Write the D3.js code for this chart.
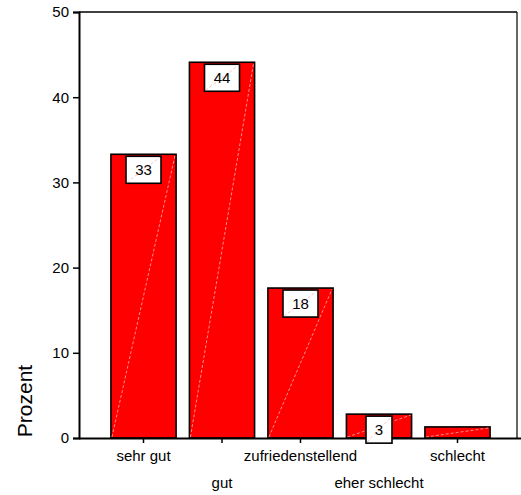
<!DOCTYPE html>
<html><head><meta charset="utf-8">
<script src="https://cdn.jsdelivr.net/npm/d3@7"></script>
<style>body{margin:0;background:#fff}svg{display:block;font-family:"Liberation Sans",Arial,sans-serif}</style>
</head><body>
<script>
const categories = ["sehr gut","gut","zufriedenstellend","eher schlecht","schlecht"];
const values = [33.3, 44.1, 17.6, 2.8, 1.3];
const labels = ["33","44","18","3",""];
const yTicks = [0,10,20,30,40,50];

(function(){
const W=521,H=495;
const svg=d3.select("body").append("svg").attr("width",W).attr("height",H);
const pLeft=79, pRight=517, pTop=12, pBottom=438;
const y=d3.scaleLinear().domain([0,50]).range([pBottom,pTop]);
const x=d3.scaleBand().domain(categories).range([104.25,496.75]).paddingInner(0.17).paddingOuter(0.085);

// frame
svg.append("line").attr("x1",pLeft).attr("x2",pRight).attr("y1",pTop).attr("y2",pTop).attr("stroke","#000").attr("stroke-width",1.5);
svg.append("line").attr("x1",pRight).attr("x2",pRight).attr("y1",pTop).attr("y2",pBottom).attr("stroke","#000").attr("stroke-width",1.2);

// bars
const g=svg.append("g");
categories.forEach((c,i)=>{
  const x0=x(c), bw=x.bandwidth(), yt=y(values[i]);
  g.append("rect").attr("x",x0).attr("y",yt).attr("width",bw).attr("height",pBottom-yt)
    .attr("fill","#ff0000").attr("stroke","#000").attr("stroke-width",1.6);
  g.append("line").attr("x1",x0+1).attr("y1",pBottom-1).attr("x2",x0+bw-1).attr("y2",yt+1)
    .attr("stroke","#ffb0b0").attr("stroke-width",0.8).attr("stroke-dasharray","3,2");
});

// y axis
const ya=svg.append("g").attr("transform",`translate(${pLeft},0)`)
  .call(d3.axisLeft(y).tickValues(yTicks).tickSize(6).tickPadding(4));
ya.select(".domain").attr("stroke-width",2);
ya.selectAll(".tick line").attr("stroke-width",1.5);
ya.selectAll("text").attr("font-size",15).attr("font-family","Liberation Sans, Arial, sans-serif").attr("fill","#000");

// x axis
const xa=svg.append("g").attr("transform",`translate(0,${pBottom})`)
  .call(d3.axisBottom(x).tickSize(5).tickSizeOuter(0));
xa.select(".domain").attr("d",`M${pLeft},0.5H${W}`).attr("stroke-width",2);
xa.selectAll(".tick line").attr("stroke-width",1.5);
xa.selectAll("text").attr("font-size",15).attr("font-family","Liberation Sans, Arial, sans-serif").attr("fill","#000")
  .attr("y",(d,i)=> i%2===0 ? 12 : 39).attr("dy","0.71em");

// value label boxes
categories.forEach((c,i)=>{
  if(!labels[i]) return;
  const cx=x(c)+x.bandwidth()/2, yt=y(values[i]);
  const bw = labels[i].length>1 ? 35 : 26, bh=27;
  const bx=cx-bw/2, by=yt+2;
  svg.append("rect").attr("x",bx).attr("y",by).attr("width",bw).attr("height",bh)
    .attr("fill","#fff").attr("stroke","#000").attr("stroke-width",1.6);
  svg.append("line").attr("x1",bx+1).attr("y1",by+bh-1).attr("x2",bx+bw-1).attr("y2",by+1)
    .attr("stroke","#ffb0b0").attr("stroke-width",0.8).attr("stroke-dasharray","3,2");
  svg.append("text").attr("x",cx).attr("y",by+bh/2).attr("dy","0.36em").attr("text-anchor","middle")
    .attr("font-size",15).attr("fill","#000").text(labels[i]);
});

// y title
svg.append("text").attr("transform","translate(32,401) rotate(-90)").attr("text-anchor","middle")
  .attr("font-size",21).attr("fill","#000").text("Prozent");
})();
</script>
</body></html>
